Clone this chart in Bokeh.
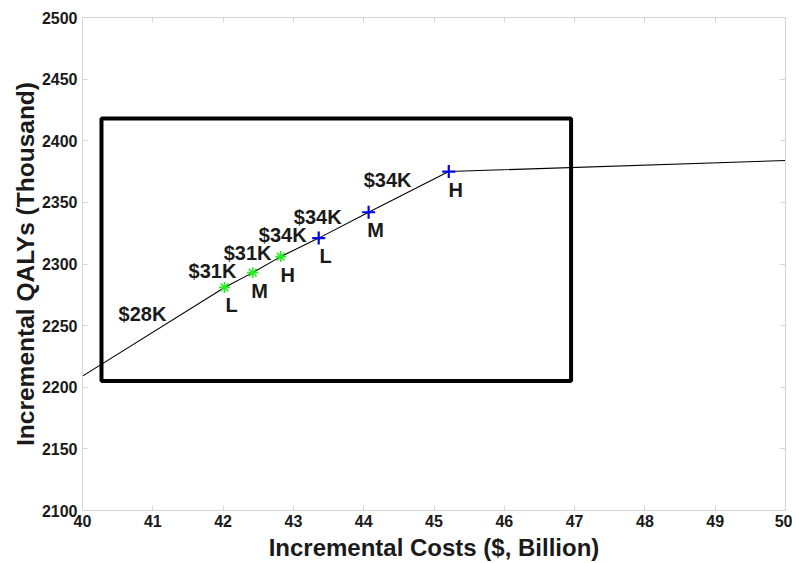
from bokeh.plotting import figure
from bokeh.models import LinearAxis, Range1d, FixedTicker, CustomJSTickFormatter, ColumnDataSource
from bokeh.core.properties import value
from bokeh.embed import file_html
from bokeh.resources import INLINE

# ---- data ----
costs = [40.0, 42.02, 42.42, 42.82, 43.36, 44.07, 45.21, 50.0]      # $ billion
qalys = [2209, 2281, 2293, 2306, 2321, 2342, 2375, 2384]            # thousand QALYs

green_idx = [1, 2, 3]
blue_idx = [4, 5, 6]
strategy_letters = ["L", "M", "H", "L", "M", "H"]
icer_labels = ["$28K", "$31K", "$31K", "$34K", "$34K", "$34K"]      # attached to points 0..5

box_x = [40.27, 46.95]
box_y = [2205, 2418]

x_ticks = [40, 41, 42, 43, 44, 45, 46, 47, 48, 49, 50]
y_ticks = [2100, 2150, 2200, 2250, 2300, 2350, 2400, 2450, 2500]

# ---- styles / offsets ----
FONT = "Liberation Sans"
GRAY = "#d4d4d4"
icer_dx = [60, -12, -5, 2, -1, 19]
icer_dy = [-62, -16, -20, -22, -21, -32]

p = figure(width=792, height=563, output_backend="svg", toolbar_location=None,
           x_range=Range1d(40, 50), y_range=Range1d(2100, 2500),
           min_border_left=82, min_border_right=7, min_border_top=17, min_border_bottom=51)
p.background_fill_color = "white"
p.border_fill_color = "white"
p.outline_line_color = GRAY
p.xgrid.visible = False
p.ygrid.visible = False

for ax, ticks in ((p.xaxis[0], x_ticks), (p.yaxis[0], y_ticks)):
    ax.ticker = FixedTicker(ticks=ticks)
    ax.axis_line_color = GRAY
    ax.major_tick_line_color = GRAY
    ax.major_tick_in = 5
    ax.major_tick_out = 0
    ax.minor_tick_line_color = None
    ax.major_label_text_font = FONT
    ax.major_label_text_font_style = "bold"
    ax.major_label_text_font_size = "16px"
    ax.major_label_text_color = "#1a1a1a"
    ax.axis_label_text_font = FONT
    ax.axis_label_text_font_style = "bold"
    ax.axis_label_text_color = "#1a1a1a"

p.xaxis[0].axis_label = "Incremental Costs ($, Billion)"
p.yaxis[0].axis_label = "Incremental QALYs (Thousand)"
p.xaxis[0].axis_label_text_font_size = "24px"
p.yaxis[0].axis_label_text_font_size = "24.5px"
p.xaxis[0].major_label_standoff = 4
p.yaxis[0].major_label_standoff = 5
p.xaxis[0].axis_label_standoff = 4
p.yaxis[0].axis_label_standoff = 0

blank = CustomJSTickFormatter(code="return ''")
for loc, ticks in (("above", x_ticks), ("right", y_ticks)):
    a = LinearAxis(ticker=FixedTicker(ticks=ticks), formatter=blank,
                   axis_line_color=GRAY, major_tick_line_color=GRAY,
                   major_tick_in=5, major_tick_out=0, minor_tick_line_color=None,
                   major_label_standoff=0, major_label_text_font_size="1px")
    p.add_layout(a, loc)

# rectangle
p.quad(left=[box_x[0]], right=[box_x[1]], bottom=[box_y[0]], top=[box_y[1]],
       fill_color=None, line_color="black", line_width=4)

# frontier line
p.line(costs, qalys, line_color="black", line_width=1.1)

gx = [costs[i] for i in green_idx]
gy = [qalys[i] for i in green_idx]
bx = [costs[i] for i in blue_idx]
by = [qalys[i] for i in blue_idx]
p.scatter(gx, gy, marker="asterisk", size=11, line_color="#22ee22", line_width=1.6)
p.scatter(bx, by, marker="cross", size=13, line_color="#0000ee", line_width=2.2)

# strategy letters
sx = gx + bx
sy = gy + by
p.text(sx, sy, text=strategy_letters, x_offset=7, y_offset=18,
       text_font=value(FONT), text_font_style="bold", text_font_size="20px",
       text_align="center", text_baseline="middle", text_color="#1a1a1a")

# ICER labels
src = ColumnDataSource(dict(x=costs[:6], y=qalys[:6], t=icer_labels, dx=icer_dx, dy=icer_dy))
p.text("x", "y", text="t", x_offset="dx", y_offset="dy", source=src,
       text_font=value(FONT), text_font_style="bold", text_font_size="20px",
       text_align="center", text_baseline="middle", text_color="#1a1a1a")

open("out.html", "w").write(file_html(p, INLINE))
